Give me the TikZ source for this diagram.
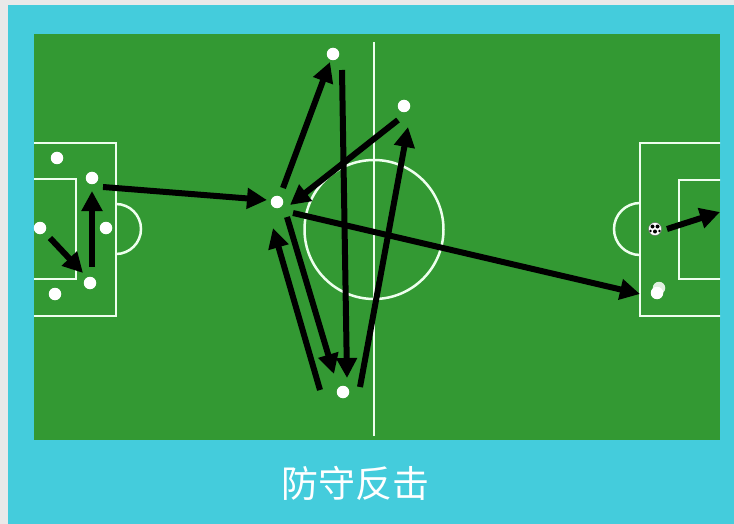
\documentclass[tikz,border=0pt]{standalone}
\usepackage{fontspec}
\newfontfamily\cjk{Noto Sans CJK SC}
\usetikzlibrary{arrows.meta}
\definecolor{bgcyan}{HTML}{44CCDC}
\definecolor{pitch}{HTML}{339933}
\definecolor{chalk}{HTML}{EEFFEE}
\definecolor{frame}{HTML}{E9E9E9}
\tikzset{
  player/.style={circle,fill=white,inner sep=0pt,minimum size=12.5pt},
  pass/.style={line width=6pt,black,-{Triangle[length=20pt,width=20pt]}},
  fieldline/.style={chalk,line width=2.5pt},
}
\begin{document}
\begin{tikzpicture}[x=1pt,y=-1pt]
\useasboundingbox (0,0) rectangle (734,524);
\fill[frame] (0,0) rectangle (734,524);
\fill[bgcyan] (8,5) rectangle (734,524);
\fill[pitch] (34,34) rectangle (720,440);
\begin{scope}
\clip (34,34) rectangle (720,440);
% halfway line and centre circle
\draw[fieldline] (374,42) -- (374,436);
\draw[fieldline] (374,229.5) circle (69.5);
% left penalty area
\draw[fieldline] (30,143) rectangle (116,316);
\draw[fieldline] (30,179) rectangle (76,279);
\draw[fieldline] (116,204) arc[start angle=-90,end angle=90,radius=25];
% right penalty area
\draw[fieldline] (640,143) rectangle (724,316);
\draw[fieldline] (679,180) rectangle (724,279);
\draw[fieldline] (640,203) arc[start angle=-90,end angle=-270,radius=26];
\end{scope}
% players
\node[player] (l1) at (57,158) {};
\node[player] (l2) at (92,178) {};
\node[player] (l3) at (40,228) {};
\node[player] (l4) at (106,228) {};
\node[player] (l5) at (90,283) {};
\node[player] (l6) at (55,294) {};
\node[player] (c) at (277,202) {};
\node[player] (t) at (333,54) {};
\node[player] (rt) at (404,106) {};
\node[player] (b) at (343,392) {};
\node[player,fill=white!85!pitch] (rs) at (659,288) {};
\node[player] (r) at (657,293) {};
% ball
\node[player,minimum size=13pt,draw=black!60,line width=0.4pt] (ball) at (655,229) {};
\fill[black] (652.5,226.5) circle (2);
\fill[black] (657.5,226.5) circle (2);
\fill[black] (655,231.5) circle (2);
\fill[black] (650.5,231) circle (1.3);
\fill[black] (659.5,231) circle (1.3);
% arrow end points
\coordinate (a1s) at (50,238);   \coordinate (a1e) at (83,273);
\coordinate (a2s) at (92,267);   \coordinate (a2e) at (92,191);
\coordinate (a3s) at (103,187);  \coordinate (a3e) at (267,200);
\coordinate (a4s) at (283,188);  \coordinate (a4e) at (330,62);
\coordinate (a5s) at (342,70);   \coordinate (a5e) at (347,378);
\coordinate (a6s) at (398,120);  \coordinate (a6e) at (290,205);
\coordinate (a7s) at (287,217);  \coordinate (a7e) at (334,374);
\coordinate (a8s) at (320,390);  \coordinate (a8e) at (273,228);
\coordinate (a9s) at (360,387);  \coordinate (a9e) at (408,127);
\coordinate (a10s) at (293,213); \coordinate (a10e) at (640,294);
\coordinate (a11s) at (667,229); \coordinate (a11e) at (720,212);
\draw[pass] (a1s) -- (a1e);
\draw[pass] (a2s) -- (a2e);
\draw[pass] (a3s) -- (a3e);
\draw[pass] (a4s) -- (a4e);
\draw[pass] (a5s) -- (a5e);
\draw[pass] (a6s) -- (a6e);
\draw[pass] (a7s) -- (a7e);
\draw[pass] (a8s) -- (a8e);
\draw[pass] (a9s) -- (a9e);
\draw[pass] (a10s) -- (a10e);
\draw[pass] (a11s) -- (a11e);
% caption
\node[text=white,font=\cjk\fontsize{37}{40}\selectfont,inner sep=0pt] (cap) at (355,483) {防守反击};
\end{tikzpicture}
\end{document}
